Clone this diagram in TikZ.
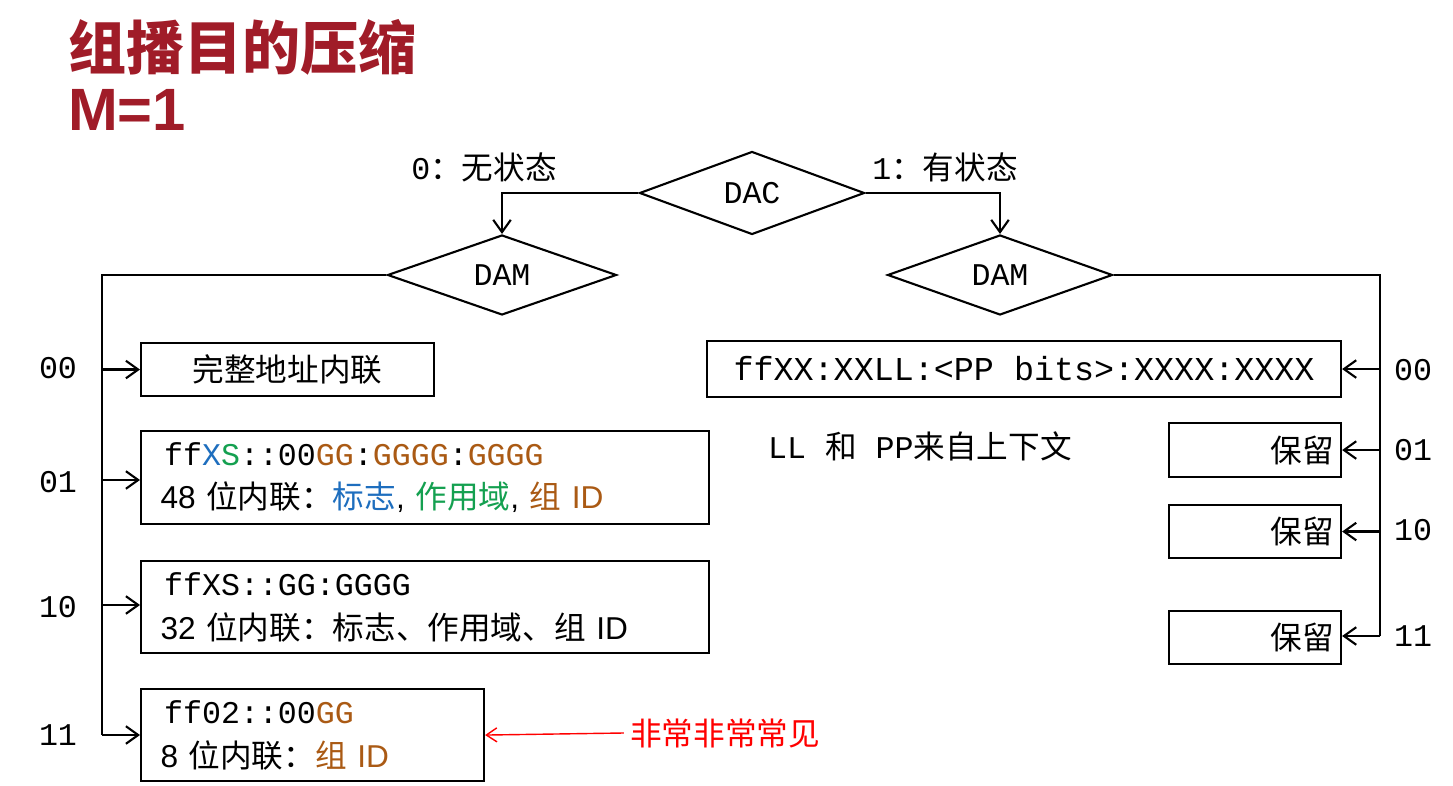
\documentclass[tikz,border=0pt]{standalone}
\usepackage{fontspec}
\setmainfont{Liberation Sans}
\setmonofont{Liberation Mono}
\newfontfamily\cjk{Noto Sans CJK SC}
\usetikzlibrary{arrows.meta,shapes.geometric}
\definecolor{titlered}{RGB}{160,28,40}
\definecolor{flagblue}{RGB}{30,110,190}
\definecolor{scopegreen}{RGB}{20,160,80}
\definecolor{grpbrown}{RGB}{170,90,20}
\newcommand{\G}[1]{\textcolor{grpbrown}{#1}}
\tikzset{
  line/.style={line width=1.2pt},
  arr/.style={line, -{Straight Barb[length=7pt,width=10pt]}},
  dia/.style={diamond, draw, line, aspect=2.8, inner sep=1pt, font=\fontsize{18}{20}\ttfamily},
  box/.style={draw, line, anchor=north west, align=left, inner sep=0pt},
  lab/.style={font=\fontsize{18}{20}\ttfamily},
}
\begin{document}
\begin{tikzpicture}[x=0.02cm,y=-0.02cm]
  \useasboundingbox (0,0) rectangle (1453,786);
  % title
  \node[anchor=west, text=titlered, font=\fontsize{33}{36}\cjk\bfseries] (title) at (62,47) {组播目的压缩};
  \node[anchor=west, text=titlered, font=\fontsize{34}{36}\rmfamily\bfseries] (mtitle) at (62,110) {M=1};
  % decision diamonds
  \node[dia, minimum width=225*0.02cm, minimum height=83*0.02cm] (dac) at (752,193) {DAC};
  \node[dia, minimum width=229*0.02cm, minimum height=80*0.02cm] (daml) at (502,275) {DAM};
  \node[dia, minimum width=225*0.02cm, minimum height=80*0.02cm] (damr) at (1000,275) {DAM};
  \node[lab, anchor=south] (zero) at (484,188) {0\cjk：无状态};
  \node[lab, anchor=south] (one) at (945,188) {1\cjk：有状态};
  \draw[arr] (dac.west) -| (daml.north);
  \draw[arr] (dac.east) -| (damr.north);
  % stateless boxes
  \node[box, minimum width=293*0.02cm, minimum height=53*0.02cm, font=\fontsize{18}{20}\cjk, align=center] (full) at (140,342) {完整地址内联};
  \node[box, minimum width=568*0.02cm, minimum height=93*0.02cm, text width=550*0.02cm, font=\fontsize{18}{21}\selectfont] (in48) at (140,430)
    {\hspace*{8pt}{\ttfamily ff\textcolor{flagblue}{X}\textcolor{scopegreen}{S}::00\G{GG}:\G{GGGG}:\G{GGGG}}\\[4pt]
     \hspace*{6pt}48 {\cjk 位内联：}\textcolor{flagblue}{\cjk 标志}, \textcolor{scopegreen}{\cjk 作用域}, \textcolor{grpbrown}{{\cjk 组} ID}};
  \node[box, minimum width=568*0.02cm, minimum height=92*0.02cm, text width=550*0.02cm, font=\fontsize{18}{21}\selectfont] (in32) at (140,560)
    {\hspace*{8pt}{\ttfamily ffXS::GG:GGGG}\\[4pt]
     \hspace*{6pt}32 {\cjk 位内联：标志、作用域、组} ID};
  \node[box, minimum width=343*0.02cm, minimum height=92*0.02cm, text width=325*0.02cm, font=\fontsize{18}{21}\selectfont] (in8) at (140,688)
    {\hspace*{8pt}{\ttfamily ff02::00\G{GG}}\\[4pt]
     \hspace*{6pt}8 {\cjk 位内联：}\textcolor{grpbrown}{{\cjk 组} ID}};
  \node[font=\fontsize{18}{20}\cjk, text=red] (common) at (725,733) {非常非常常见};
  \draw[red, line width=0.8pt, -{Straight Barb[length=6pt,width=8pt]}] (common.west) -- (in8.east);
  % stateless bus
  \coordinate (lbus) at (102,275);
  \coordinate (lend) at (102,735);
  \draw[line] (daml.west) -- (lbus) -- (lend);
  \draw[arr] (lbus |- full.west) -- (full.west);
  \draw[arr] (102,480) -- (in48.west |- 102,480);
  \draw[arr] (102,605) -- (in32.west |- 102,605);
  \draw[arr] (lend) -- (in8.west |- lend);
  \node[lab] (l00) at (58,368) {00};
  \node[lab] (l01) at (58,482) {01};
  \node[lab] (l10) at (58,607) {10};
  \node[lab] (l11) at (58,735) {11};
  % stateful boxes
  \node[box, minimum width=634*0.02cm, minimum height=56*0.02cm, align=center, font=\fontsize{19}{20}\ttfamily] (ctx) at (706,340) {ffXX:XXLL:<PP bits>:XXXX:XXXX};
  \node[font=\fontsize{18}{20}\ttfamily] (note) at (920,446) {LL {\cjk 和} PP{\cjk 来自上下文}};
  \node[box, minimum width=172*0.02cm, minimum height=54*0.02cm, font=\fontsize{18}{20}\cjk, align=center] (r01) at (1168,422) {\hspace{3em}保留};
  \node[box, minimum width=172*0.02cm, minimum height=53*0.02cm, font=\fontsize{18}{20}\cjk, align=center] (r10) at (1168,504) {\hspace{3em}保留};
  \node[box, minimum width=172*0.02cm, minimum height=53*0.02cm, font=\fontsize{18}{20}\cjk, align=center] (r11) at (1168,610) {\hspace{3em}保留};
  % stateful bus
  \coordinate (rbus) at (1380,275);
  \coordinate (rend) at (1380,636);
  \draw[line] (damr.east) -- (rbus) -- (rend);
  \draw[arr] (rbus |- ctx.east) -- (ctx.east);
  \draw[arr] (rbus |- r01.east) -- (r01.east);
  \draw[arr] (rbus |- r10.east) -- (r10.east);
  \draw[arr] (rend) -- (r11.east |- rend);
  \node[lab] (r00l) at (1413,370) {00};
  \node[lab] (r01l) at (1413,450) {01};
  \node[lab] (r10l) at (1413,530) {10};
  \node[lab] (r11l) at (1413,636) {11};
\end{tikzpicture}
\end{document}
